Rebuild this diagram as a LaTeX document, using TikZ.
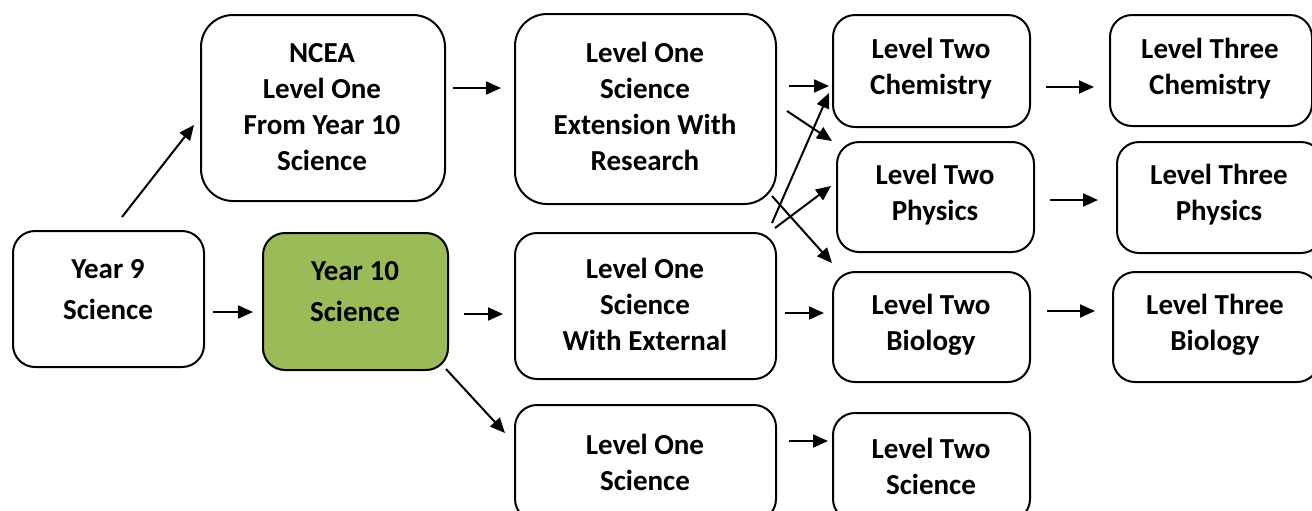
\documentclass[tikz,border=0pt]{standalone}
\usepackage{fontspec}
\setmainfont{Carlito}
\usetikzlibrary{arrows.meta}
\definecolor{boxgreen}{HTML}{9BBB59}
\begin{document}
\begin{tikzpicture}[x=0.5pt,y=-0.5pt,
  box/.style={draw=black,line width=1pt,rounded corners=11pt,inner sep=0pt,anchor=north west},
  bigbox/.style={rounded corners=16pt},
  lbl/.style={align=center,font=\bfseries\fontsize{14.5}{18}\selectfont,inner sep=0pt},
  widelbl/.style={lbl,font=\bfseries\fontsize{14.5}{20.5}\selectfont},
  arr/.style={line width=1pt,-{Triangle[length=7.5pt,width=6.5pt]}}]
\useasboundingbox[fill=white] (0,0) rectangle (1312,510);
% box: style, name, x1, y1, x2, y2
\def\bx#1#2#3#4#5#6{%
  \node[box,#1,minimum width={(#5-#3)*0.5pt},minimum height={(#6-#4)*0.5pt}] (#2) at (#3,#4) {};}
% label: style, name, cx, cy, text
\def\lb#1#2#3#4#5{\node[#1] (#2) at (#3,#4) {#5};}
\bx{}{y9}{12}{230}{203}{366}
\bx{fill=boxgreen}{y10}{262}{232}{447}{369}
\bx{bigbox}{ncea}{200}{14}{444}{200}
\bx{bigbox}{ext}{514}{13}{775}{203}
\bx{}{wext}{514}{232}{775}{378}
\bx{}{lone}{514}{404}{775}{520}
\bx{}{ltc}{832}{14}{1029}{126}
\bx{}{ltp}{836}{141}{1033}{251}
\bx{}{ltb}{832}{271}{1029}{381}
\bx{}{lts}{832}{412}{1029}{520}
\bx{}{lhc}{1109}{14}{1311}{125}
\bx{}{lhp}{1116}{141}{1322}{252}
\bx{}{lhb}{1112}{271}{1318}{381}
\lb{widelbl}{y9t}{108}{290}{Year 9\\Science}
\lb{widelbl}{y10t}{355}{292}{Year 10\\Science}
\lb{lbl}{nceat}{322}{107}{NCEA\\Level One\\From Year 10\\Science}
\lb{lbl}{extt}{645}{106}{Level One\\Science\\Extension With\\Research}
\lb{lbl}{wextt}{645}{304}{Level One\\Science\\With External}
\lb{lbl}{lonet}{645}{462}{Level One\\Science}
\lb{lbl}{ltct}{931}{69}{Level Two\\Chemistry}
\lb{lbl}{ltpt}{935}{195}{Level Two\\Physics}
\lb{lbl}{ltbt}{931}{325}{Level Two\\Biology}
\lb{lbl}{ltst}{931}{466}{Level Two\\Science}
\lb{lbl}{lhct}{1210}{69}{Level Three\\Chemistry}
\lb{lbl}{lhpt}{1219}{195}{Level Three\\Physics}
\lb{lbl}{lhbt}{1215}{325}{Level Three\\Biology}
% arrow end points
\coordinate (a1s) at (122,217); \coordinate (a1e) at (194,125);
\coordinate (a2s) at (213,312); \coordinate (a2e) at (253,312);
\coordinate (a3s) at (453,88);  \coordinate (a3e) at (501,88);
\coordinate (a4s) at (464,314); \coordinate (a4e) at (503,314);
\coordinate (a5s) at (446,369); \coordinate (a5e) at (505,433);
\coordinate (a6s) at (789,86);  \coordinate (a6e) at (829,86);
\coordinate (a7s) at (787,111); \coordinate (a7e) at (832,141);
\coordinate (a8s) at (772,223); \coordinate (a8e) at (829,93);
\coordinate (a9s) at (775,228); \coordinate (a9e) at (831,186);
\coordinate (a10s) at (772,196); \coordinate (a10e) at (832,263);
\coordinate (a11s) at (785,313); \coordinate (a11e) at (824,313);
\coordinate (a12s) at (789,441); \coordinate (a12e) at (828,441);
\coordinate (a13s) at (1046,87); \coordinate (a13e) at (1094,87);
\coordinate (a14s) at (1050,200); \coordinate (a14e) at (1098,200);
\coordinate (a15s) at (1047,311); \coordinate (a15e) at (1095,311);
\foreach \i in {1,...,15} \draw[arr] (a\i s) -- (a\i e);
\end{tikzpicture}
\end{document}
